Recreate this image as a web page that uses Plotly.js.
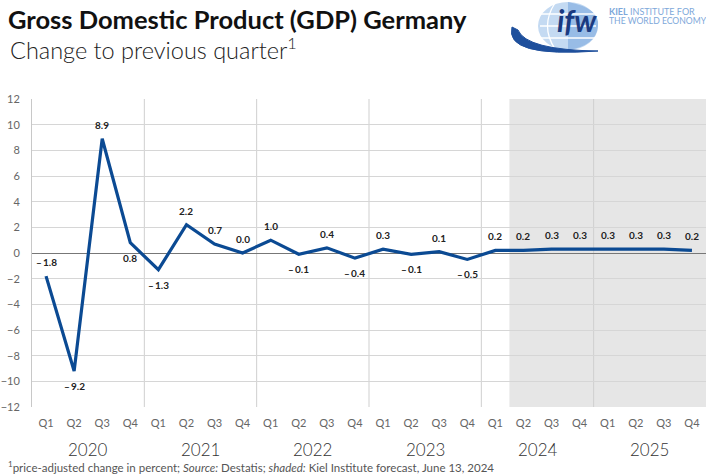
<!DOCTYPE html>
<html>
<head>
<meta charset="utf-8">
<script src="https://cdn.plot.ly/plotly-3.0.1.min.js"></script>
<style>html,body{margin:0;padding:0;background:#fff;}#chart{width:706px;height:474px;}</style>
</head>
<body>
<div id="chart"></div>
<script>
// ---- data ----
const years = ["2020", "2021", "2022", "2023", "2024", "2025"];
const quarters = ["Q1", "Q2", "Q3", "Q4"];
const gdpChange = [-1.8, -9.2, 8.9, 0.8, -1.3, 2.2, 0.7, 0.0, 1.0, -0.1, 0.4, -0.4, 0.3, -0.1, 0.1, -0.5, 0.2, 0.2, 0.3, 0.3, 0.3, 0.3, 0.3, 0.2];
// label placement: 1 = above, -1 = below
const labelSide = [1, -1, 1, -1, -1, 1, 1, 1, 1, -1, 1, -1, 1, -1, 1, -1, 1, 1, 1, 1, 1, 1, 1, 1];
const forecastStartIndex = 17; // 2024 Q2
const yTicks = [-12, -10, -8, -6, -4, -2, 0, 2, 4, 6, 8, 10, 12];

// ---- layout helpers ----
const W = 706, H = 474, ML = 32, MR = 0, MT = 99, MB = 67;
const PW = W - ML - MR, PH = H - MT - MB;
const PX = px => (px - ML) / PW;
const PY = py => 1 + (MT - py) / PH;

const xIdx = gdpChange.map((_, i) => i);
const tickText = xIdx.map(i => quarters[i % 4]);
const fmt = v => v < 0 ? "\u2013\u2009" + Math.abs(v).toFixed(1) : v.toFixed(1);

const FONT = "Lato, 'Open Sans', sans-serif";

const trace = {
  x: xIdx, y: gdpChange, type: "scatter", mode: "lines",
  line: {color: "#0b4a93", width: 3.2},
  hoverinfo: "skip", cliponaxis: false
};

const shapes = [];
// forecast shading
shapes.push({type: "rect", xref: "x", yref: "paper", x0: forecastStartIndex - 0.5, x1: gdpChange.length - 0.5, y0: 0, y1: 1,
  fillcolor: "#e6e6e6", line: {width: 0}, layer: "below"});
// year separators
for (let k = 1; k < years.length; k++) {
  shapes.push({type: "line", xref: "x", yref: "paper", x0: k * 4 - 0.5, x1: k * 4 - 0.5, y0: 0, y1: 1,
    line: {color: "#cfcfcf", width: 1}, layer: "below"});
}

const annotations = [];
// data labels
gdpChange.forEach((v, i) => {
  annotations.push({x: i, y: v, xref: "x", yref: "y", text: fmt(v), showarrow: false,
    yshift: labelSide[i] > 0 ? 14 : -15, font: {family: FONT, size: 10, color: "#222", weight: 700}});
});
// year labels
years.forEach((yr, k) => {
  annotations.push({x: k * 4 + 1.5, y: PY(449), xref: "x", yref: "paper", text: yr, showarrow: false,
    yanchor: "middle", font: {family: FONT, size: 17, color: "#333", weight: 300}});
});
// subtitle
annotations.push({x: PX(8), y: PY(49), xref: "paper", yref: "paper", xanchor: "left", yanchor: "middle",
  text: "Change to previous quarter<sup>1</sup>", showarrow: false,
  font: {family: FONT, size: 23.5, color: "#222", weight: 300}});
// footnote
annotations.push({x: PX(6), y: PY(466), xref: "paper", yref: "paper", xanchor: "left", yanchor: "middle",
  text: "<sup>1</sup>price-adjusted change in percent; <i>Source:</i> Destatis; <i>shaded:</i> Kiel Institute forecast, June 13, 2024",
  showarrow: false, font: {family: FONT, size: 11.5, color: "#555"}});

// ---- logo (approximate) ----
shapes.push({type: "circle", xref: "paper", yref: "paper", x0: PX(538), x1: PX(598), y0: PY(50), y1: PY(2),
  fillcolor: "#c4daf2", line: {width: 0}, layer: "above"});
shapes.push({type: "path", xref: "paper", yref: "paper",
  path: `M ${PX(568)} ${PY(2)} Q ${PX(600)} ${PY(8)} ${PX(598)} ${PY(26)} Q ${PX(596)} ${PY(46)} ${PX(568)} ${PY(50)} Z`,
  fillcolor: "#98bce6", line: {width: 0}, layer: "above"});
[14, 26, 38].forEach(py => {
  shapes.push({type: "line", xref: "paper", yref: "paper", x0: PX(540), x1: PX(596), y0: PY(py), y1: PY(py),
    line: {color: "#ffffff", width: 1.3}, layer: "above"});
});
shapes.push({type: "path", xref: "paper", yref: "paper",
  path: `M ${PX(555)} ${PY(3)} Q ${PX(540)} ${PY(26)} ${PX(555)} ${PY(49)}`,
  line: {color: "#ffffff", width: 1.3}, layer: "above"});
shapes.push({type: "path", xref: "paper", yref: "paper",
  path: `M ${PX(512)} ${PY(27)} Q ${PX(504)} ${PY(58)} ${PX(598)} ${PY(51)} Q ${PX(526)} ${PY(50)} ${PX(518)} ${PY(30)} Z`,
  fillcolor: "#1e4f9c", line: {color: "#1e4f9c", width: 1}, layer: "above"});
annotations.push({x: PX(555), y: PY(20), xref: "paper", yref: "paper", xanchor: "left", yanchor: "middle",
  text: "<b><i>ifw</i></b>", showarrow: false, font: {family: FONT, size: 30, color: "#1a3a80"}});
annotations.push({x: PX(607), y: PY(11), xref: "paper", yref: "paper", xanchor: "left", yanchor: "middle",
  text: "<b>KIEL</b> INSTITUTE FOR", showarrow: false, font: {family: FONT, size: 9, color: "#7ea8da"}});
annotations.push({x: PX(607), y: PY(21), xref: "paper", yref: "paper", xanchor: "left", yanchor: "middle",
  text: "THE WORLD ECONOMY", showarrow: false, font: {family: FONT, size: 8.6, color: "#7ea8da"}});

const layout = {
  width: W, height: H,
  margin: {l: ML, r: MR, t: MT, b: MB, pad: 0},
  paper_bgcolor: "#ffffff", plot_bgcolor: "#ffffff",
  showlegend: false,
  font: {family: FONT},
  title: {text: "<b>Gross Domestic Product (GDP) Germany</b>", xref: "container", yref: "container",
    x: 8 / W, xanchor: "left", y: 1 - 20 / H, yanchor: "middle",
    font: {family: FONT, size: 25.5, color: "#111", weight: 900}},
  xaxis: {range: [-0.5, gdpChange.length - 0.5], tickvals: xIdx, ticktext: tickText,
    showgrid: false, zeroline: false, showline: false, ticks: "outside", ticklen: 6, tickcolor: "rgba(0,0,0,0)",
    tickfont: {family: FONT, size: 11, color: "#666"}, fixedrange: true},
  yaxis: {range: [-12, 12], tickvals: yTicks, showgrid: true, gridcolor: "#d6d6d6", gridwidth: 1,
    zeroline: true, zerolinecolor: "#777", zerolinewidth: 1,
    showline: true, linecolor: "#c8c8c8", linewidth: 1,
    ticks: "outside", ticklen: 9, tickcolor: "rgba(0,0,0,0)",
    tickfont: {family: FONT, size: 11, color: "#666"}, fixedrange: true},
  shapes: shapes,
  annotations: annotations
};

Plotly.newPlot("chart", [trace], layout, {staticPlot: true, displayModeBar: false});
</script>
</body>
</html>
